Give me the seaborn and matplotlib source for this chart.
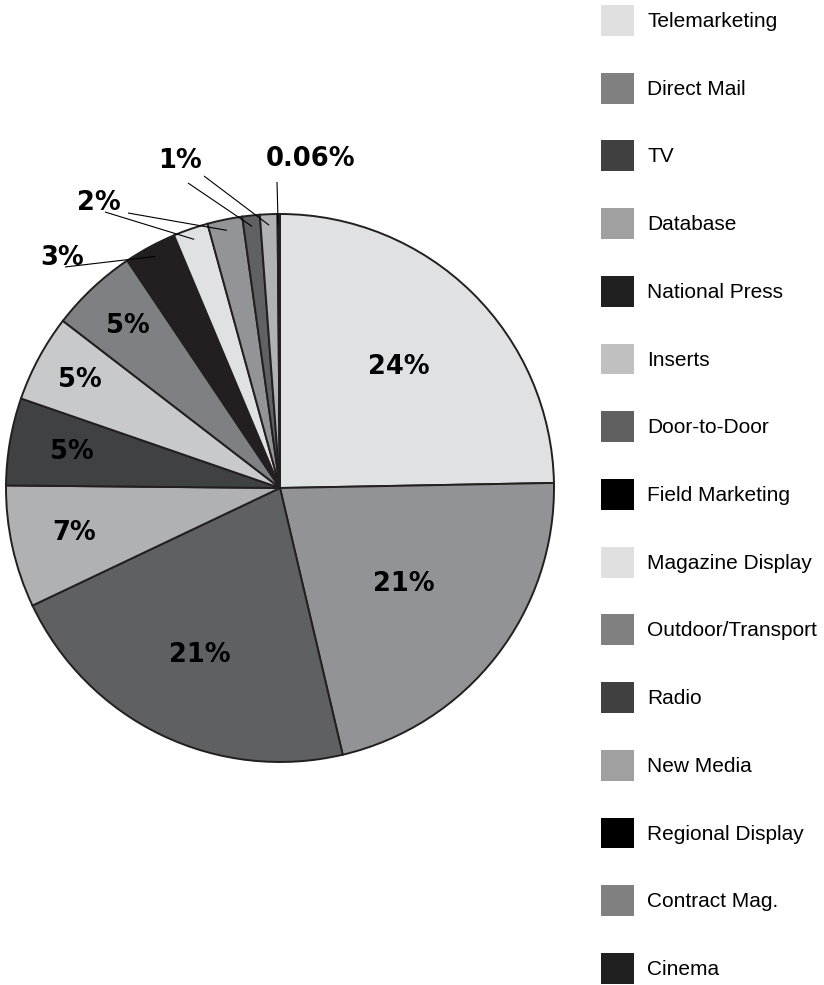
import matplotlib
matplotlib.use("Agg")
import matplotlib.pyplot as plt
from matplotlib.patches import Patch
import numpy as np
import seaborn as sns

# Media spend share by channel
channels = ["Telemarketing", "Direct Mail", "TV", "Database", "National Press",
            "Inserts", "Door-to-Door", "Field Marketing", "Magazine Display",
            "Outdoor/Transport", "Radio", "New Media", "Regional Display",
            "Contract Mag.", "Cinema"]
shares = [24, 21, 21, 7, 5, 5, 5, 3, 2, 2, 1, 1, 0.06, 0.05, 0.03]
share_labels = ["24%", "21%", "21%", "7%", "5%", "5%", "5%", "3%", "2%", "2%",
                "1%", "1%", "0.06%", "", ""]

wedge_colors = ["#e0e1e3", "#929396", "#5f6062", "#b0b1b3", "#404142",
                "#c8c9cb", "#7f8083", "#231f20", "#e0e1e3", "#939497",
                "#606163", "#b1b2b4", "#404142", "#231f20", "#231f20"]
legend_colors = ["#e0e0e0", "#808080", "#404040", "#a0a0a0", "#202020",
                 "#c0c0c0", "#606060", "#000000", "#e0e0e0", "#808080",
                 "#404040", "#a0a0a0", "#000000", "#808080", "#202020"]

sns.set_theme(style="white")
plt.rcParams["font.family"] = ["DejaVu Sans"]

W, H = 824, 985
fig = plt.figure(figsize=(W / 100, H / 100), dpi=100)
fig.patch.set_facecolor("white")

# pie axes: centre (280, 488) px, radius 274 px
cx, cy, R = 280, 488, 274
ax = fig.add_axes([(cx - R) / W, (H - cy - R) / H, 2 * R / W, 2 * R / H])

wedges, _ = ax.pie(shares, colors=sns.color_palette(wedge_colors), startangle=90,
                   counterclock=False, radius=1,
                   wedgeprops=dict(edgecolor="#231f20", linewidth=1.4))
ax.set_xlim(-1, 1)
ax.set_ylim(-1, 1)
ax.set_aspect("equal")
ax.axis("off")

label_font = dict(family="DejaVu Sans", fontweight="bold", fontsize=18.5,
                  color="black")


def mid_point(w, r):
    a = np.deg2rad((w.theta1 + w.theta2) / 2)
    return r * np.cos(a), r * np.sin(a)


# labels inside the larger wedges (radial distance per wedge)
inner_r = {0: 0.617, 1: 0.571, 2: 0.675, 3: 0.77, 4: 0.77, 5: 0.83, 6: 0.81}
for i, r in inner_r.items():
    x, y = mid_point(wedges[i], r)
    ax.text(x, y, share_labels[i], ha="center", va="center", **label_font)


def px(p):
    return ((p[0] - cx) / R, (cy - p[1]) / R)


# outside labels with leader lines: text centre, [(wedge index, line start)]
outer = [
    ("3%", (62, 258), [(7, (65, 267))]),
    ("2%", (99, 203), [(8, (105, 212)), (9, (128, 213))]),
    ("1%", (180, 161), [(10, (188, 183)), (11, (204, 176))]),
    ("0.06%", (311, 159), [(12, (277, 182))]),
]
for text, tpos, lines in outer:
    tx, ty = px(tpos)
    ax.text(tx, ty, text, ha="center", va="center", clip_on=False, **label_font)
    for idx, start in lines:
        sx, sy = px(start)
        ex, ey = mid_point(wedges[idx], 0.96)
        ax.plot([sx, ex], [sy, ey], color="black", lw=0.8, clip_on=False,
                solid_capstyle="butt")

handles = [Patch(facecolor=c, edgecolor="none") for c in legend_colors]
fig.legend(handles, channels, loc="upper left",
           bbox_to_anchor=(601 / W, 1 - 5 / H), frameon=False,
           borderpad=0, borderaxespad=0, handlelength=1.6, handleheight=1.9,
           handletextpad=0.62, labelspacing=1.77, labelcolor="black",
           prop=dict(family="Liberation Sans", size=15))

fig.savefig("out.png", dpi=100, facecolor="white")
